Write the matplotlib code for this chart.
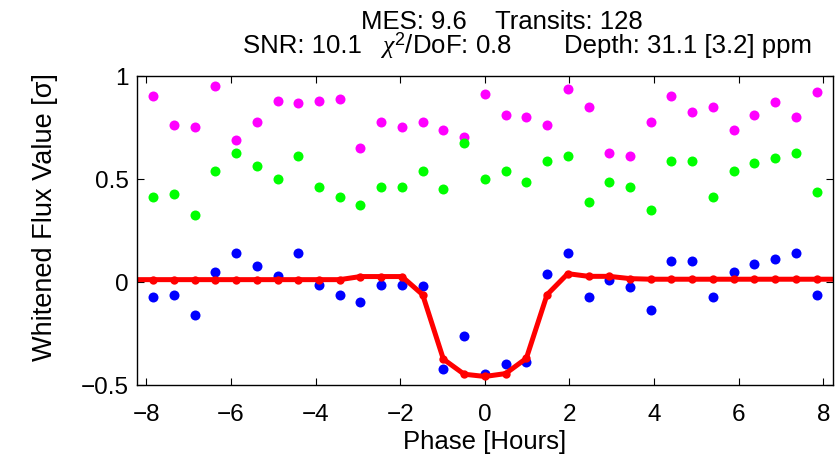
import matplotlib
matplotlib.use("Agg")
import matplotlib.pyplot as plt

plt.rcParams["font.family"] = ["Liberation Sans", "DejaVu Sans"]
plt.rcParams["mathtext.fontset"] = "custom"
plt.rcParams["mathtext.rm"] = "Liberation Sans"
plt.rcParams["mathtext.it"] = "Liberation Serif:italic"

# phase bins [hours]
PHASE = [-7.84, -7.35, -6.86, -6.37, -5.88, -5.39, -4.90, -4.41, -3.92, -3.43,
         -2.94, -2.45, -1.96, -1.47, -0.98, -0.49, 0.00, 0.49, 0.98, 1.47,
         1.96, 2.45, 2.94, 3.43, 3.92, 4.41, 4.90, 5.39, 5.88, 6.37,
         6.86, 7.35, 7.84]

BLUE = [-0.075, -0.063, -0.161, 0.049, 0.138, 0.075, 0.029, 0.138, -0.015, -0.063,
        -0.099, -0.015, -0.015, -0.023, -0.424, -0.262, -0.446, -0.400, -0.389, 0.037,
        0.138, -0.075, 0.010, -0.026, -0.137, 0.100, 0.100, -0.075, 0.049, 0.088,
        0.112, 0.138, -0.063]

GREEN = [0.413, 0.424, 0.324, 0.535, 0.623, 0.561, 0.499, 0.611, 0.462, 0.413,
         0.374, 0.462, 0.462, 0.535, 0.449, 0.673, 0.499, 0.535, 0.486, 0.587,
         0.611, 0.387, 0.486, 0.462, 0.350, 0.587, 0.587, 0.413, 0.535, 0.574,
         0.600, 0.623, 0.437]

MAGENTA = [0.899, 0.762, 0.750, 0.950, 0.688, 0.776, 0.877, 0.866, 0.877, 0.888,
           0.650, 0.776, 0.750, 0.776, 0.738, 0.701, 0.912, 0.811, 0.798, 0.762,
           0.937, 0.849, 0.623, 0.611, 0.776, 0.899, 0.824, 0.849, 0.737, 0.811,
           0.873, 0.798, 0.923]

# transit model, one extra bin on each side (runs off the plot edge)
MODEL_PHASE = [-8.33] + PHASE + [8.33]
MODEL = [0.010, 0.010, 0.010, 0.010, 0.010, 0.010, 0.010, 0.010, 0.010, 0.010, 0.010,
         0.025, 0.025, 0.025, -0.063, -0.376, -0.449, -0.460, -0.446, -0.372, -0.063,
         0.039, 0.026, 0.026, 0.015, 0.012, 0.012, 0.012, 0.012, 0.012, 0.012,
         0.012, 0.012, 0.012, 0.012]

# header pieces: (text, left edge px, line)
HEADER = [("MES: 9.6", 360.7, 0), ("Transits: 128", 495, 0),
          ("SNR: 10.1", 243.3, 1), (r"$\chi^2$/DoF: 0.8", 380, 1),
          ("Depth: 31.1 [3.2] ppm", 564.3, 1)]
BASELINES = [29.3, 53.3]

W, H = 839, 460
fig = plt.figure(figsize=(W / 100, H / 100), dpi=100)
ax = fig.add_axes([0.1633, 0.1615, 0.8292, 0.6718])

ms = 7.2
ax.plot(PHASE, MAGENTA, "o", color="#ff00ff", ms=ms, mec="none")
ax.plot(PHASE, GREEN, "o", color="#00ff00", ms=ms, mec="none")
ax.plot(PHASE, BLUE, "o", color="#0000ff", ms=ms, mec="none")
ax.plot(MODEL_PHASE, MODEL, "-o", color="#ff0000", lw=3.6, ms=6, mec="none")

ax.set_xlim(-8.22, 8.22)
ax.set_ylim(-0.5, 1.0)
ax.set_xticks([-8, -6, -4, -2, 0, 2, 4, 6, 8])
ax.set_yticks([-0.5, 0, 0.5, 1])
ax.set_yticklabels(["\u22120.5", "0", "0.5", "1"])
ax.set_xticklabels(["\u22128", "\u22126", "\u22124", "\u22122", "0", "2", "4", "6", "8"])
ax.tick_params(direction="in", length=5, width=0.8, top=True, right=True,
               labelsize=17.5)
ax.tick_params(axis="x", pad=13.2)
ax.tick_params(axis="y", pad=6)
for s in ax.spines.values():
    s.set_linewidth(1.0)

ax.set_xlabel("Phase [Hours]", fontsize=18.5, labelpad=3)
fig.text(45 / W, 1 - 217.5 / H, "Whitened Flux Value [\u03c3]", rotation=90,
         ha="center", va="center", fontsize=19.5)

for txt, xpx, line in HEADER:
    fig.text(xpx / W, 1 - BASELINES[line] / H, txt, ha="left", va="baseline",
             fontsize=18.5)

fig.savefig("out.png", dpi=100)
